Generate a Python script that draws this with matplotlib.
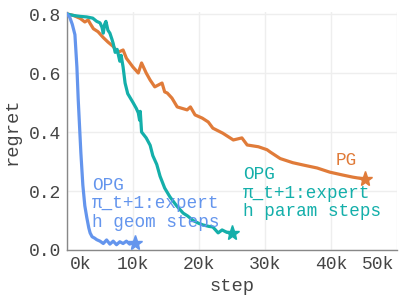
import matplotlib
matplotlib.use("Agg")
import matplotlib.pyplot as plt
import matplotlib.transforms as mtransforms

# ---------------- data ----------------
pg_steps = [0, 1000, 2000, 2700, 3200, 3500, 4000, 4700, 5500, 6200, 7000, 7700, 8500, 9000,
            10000, 10800, 11300, 12000, 12600, 13300, 14400, 14800, 15200, 15900, 16700,
            18200, 18700, 19400, 20500, 21400, 22100, 23600, 25200, 26500, 27300, 29000,
            30300, 30800, 32300, 34200, 35800, 37900, 39800, 41800, 43300, 45200]
pg_vals = [0.800, 0.795, 0.785, 0.773, 0.780, 0.768, 0.750, 0.740, 0.720, 0.705, 0.690, 0.670,
           0.678, 0.650, 0.620, 0.600, 0.634, 0.600, 0.576, 0.553, 0.566, 0.536, 0.532, 0.515,
           0.485, 0.475, 0.485, 0.458, 0.447, 0.434, 0.413, 0.396, 0.373, 0.380, 0.356, 0.350,
           0.340, 0.332, 0.310, 0.296, 0.288, 0.278, 0.264, 0.254, 0.247, 0.240]

param_steps = [0, 1000, 2000, 3000, 3900, 4500, 5000, 5300, 5500, 5700, 5900, 6200, 6500, 6800,
               7000, 7300, 7600, 8000, 8200, 8500, 8800, 9200, 10000, 10500, 10800, 11000,
               11100, 11300, 12000, 12600, 13000, 13600, 14100, 14800, 15600, 16600, 17600,
               18300, 19100, 20000, 20600, 21500, 22100, 22900, 23500, 24200, 25000]
param_vals = [0.800, 0.795, 0.792, 0.790, 0.786, 0.775, 0.770, 0.755, 0.735, 0.765, 0.775, 0.745,
              0.735, 0.715, 0.700, 0.670, 0.680, 0.640, 0.660, 0.620, 0.566, 0.530, 0.500, 0.480,
              0.465, 0.440, 0.470, 0.400, 0.380, 0.355, 0.320, 0.290, 0.250, 0.210, 0.180, 0.150,
              0.125, 0.115, 0.100, 0.090, 0.085, 0.080, 0.078, 0.058, 0.068, 0.060, 0.058]

geom_steps = [0, 400, 800, 1200, 1500, 1700, 1900, 2100, 2400, 2700, 3000, 3300, 3500, 3800,
              4200, 4500, 5000, 5500, 6000, 6500, 7000, 7500, 8000, 8500, 9000, 9500, 10000, 10300]
geom_vals = [0.800, 0.790, 0.765, 0.730, 0.620, 0.510, 0.420, 0.330, 0.220, 0.150, 0.110, 0.075,
             0.058, 0.045, 0.040, 0.035, 0.030, 0.022, 0.034, 0.020, 0.030, 0.018, 0.028, 0.022,
             0.030, 0.020, 0.026, 0.025]

x_ticks = [0, 10000, 20000, 30000, 40000, 50000]
x_ticklabels = ["0k", "10k", "20k", "30k", "40k", "50k"]
y_ticks = [0.0, 0.2, 0.4, 0.6, 0.8]
y_ticklabels = ["0.0", "0.2", "0.4", "0.6", "0.8"]

c_pg = "#E07B39"
c_param = "#14AFAA"
c_geom = "#6495ED"
font = ["Liberation Mono", "DejaVu Sans Mono"]

# ---------------- figure ----------------
fig = plt.figure(figsize=(4, 3), dpi=100)
ax = fig.add_axes([67 / 400, 1 - 250 / 300, 330 / 400, 238 / 300])

lw = 2.3
ax.plot(pg_steps, pg_vals, color=c_pg, lw=lw, solid_joinstyle="round", zorder=3)
ax.plot(param_steps, param_vals, color=c_param, lw=lw, solid_joinstyle="round", zorder=4)
ax.plot(geom_steps, geom_vals, color=c_geom, lw=lw, solid_joinstyle="round", zorder=5)

ms = 11
ax.plot(pg_steps[-1], pg_vals[-1], marker="*", ms=ms, color=c_pg, mec=c_pg, zorder=6)
ax.plot(param_steps[-1], param_vals[-1], marker="*", ms=ms, color=c_param, mec=c_param, zorder=6)
ax.plot(geom_steps[-1], geom_vals[-1], marker="*", ms=ms, color=c_geom, mec=c_geom, zorder=6)

ax.set_xlim(0, 50000)
ax.set_ylim(0, 0.8068)

ax.set_xticks(x_ticks)
ax.set_xticklabels(x_ticklabels, family=font, fontsize=13, color="#444444")
ax.set_yticks(y_ticks)
ax.set_yticklabels(y_ticklabels, family=font, fontsize=13, color="#444444")
ax.tick_params(length=0, pad=4)
labs = ax.get_xticklabels()
labs[0].set_ha("left")
labs[0].set_transform(labs[0].get_transform() + mtransforms.ScaledTranslation(3 / 100, 0, fig.dpi_scale_trans))
labs[-1].set_ha("right")
labs[-1].set_transform(labs[-1].get_transform() + mtransforms.ScaledTranslation(-3 / 100, 0, fig.dpi_scale_trans))

ax.grid(True, color="#EEEEEE", lw=1)
ax.set_axisbelow(True)
for s in ["top", "right"]:
    ax.spines[s].set_visible(False)
for s in ["left", "bottom"]:
    ax.spines[s].set_color("#888888")
    ax.spines[s].set_linewidth(1)

ax.set_xlabel("step", family=font, fontsize=13.5, color="#444444", labelpad=4)
ax.set_ylabel("regret", family=font, fontsize=13.5, color="#444444", labelpad=6)

tf = 12.7
ax.text(42300, 0.305, "PG", family=font, fontsize=tf, color=c_pg, ha="center", va="center", zorder=7)
ax.text(26700, 0.193, "OPG\nπ_t+1:expert\nh param steps", family=font, fontsize=tf,
        color=c_param, ha="left", va="center", linespacing=1.1, zorder=7)
ax.text(3800, 0.156, "OPG\nπ_t+1:expert\nh geom steps", family=font, fontsize=tf,
        color=c_geom, ha="left", va="center", linespacing=1.1, zorder=7)

fig.savefig("out.png", dpi=100)
